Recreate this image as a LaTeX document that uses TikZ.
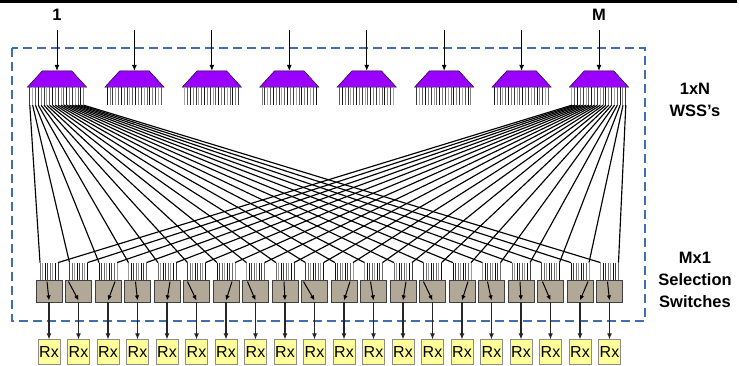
\documentclass[tikz,border=0pt]{standalone}
\usepackage{fontspec}
\setmainfont{Liberation Sans}
\usetikzlibrary{calc, arrows.meta, positioning}
\definecolor{wsspurple}{RGB}{153,0,255}
\definecolor{swgrey}{RGB}{178,168,152}
\definecolor{rxyellow}{RGB}{255,255,153}
\definecolor{boxblue}{RGB}{62,110,180}

\begin{document}
\begin{tikzpicture}[x=1pt, y=-1pt, >={Latex[length=6pt,width=5pt]},
    every node/.style={font=\fontsize{16.5}{22}\selectfont\bfseries, align=center},
    wss/.style={minimum width=59pt, minimum height=16pt, inner sep=0pt},
    swbox/.style={draw=black!75, thick, fill=swgrey,
        minimum width=26pt, minimum height=22pt, inner sep=0pt},
    rxbox/.style={draw=black!45, thick, fill=rxyellow, minimum width=22pt,
        minimum height=25pt, inner sep=0pt, font=\fontsize{16}{18}\selectfont},
    fibre/.style={line width=1.15pt},
    port/.style={line width=1pt}]

            \useasboundingbox (0,0) rectangle (739,365);

            % Rule along the top
            \draw[line width=3pt] (0,1.5) -- (737,1.5);

            % Outer dashed box
            \draw[boxblue, line width=1.4pt, dash pattern=on 9pt off 5pt] (12,48) rectangle (645,321);

            % Input labels
            \node (lbl1) at (57,15) {1};
            \node (lblM) at (599,15) {M};

            % 1xN WSS's with their input arrows and output ports
            \foreach \k in {1,...,8} {
                \node[wss] (wss\k) at ({57+77.43*(\k-1)},79) {};
                \draw[fill=wsspurple] (wss\k.south west) -- ($(wss\k.north west)+(15,0)$)
                    -- ($(wss\k.north east)+(-15,0)$) -- (wss\k.south east) -- cycle;
                \coordinate (in\k) at ({57+77.43*(\k-1)},30);
                \draw[->, thick] (in\k) -- (wss\k.north);
                \foreach \j in {1,...,20} {
                    \pgfmathtruncatemacro\tone{mod(\j*7+\k,5)*14+35}
                    \draw[port, draw=black!\tone]
                        ($(wss\k.south west)+({2.5+(\j-1)*54/19},0)$) --
                        ($(wss\k.south west)+({2.5+(\j-1)*54/19},18)$);
                }
            }

            % Mx1 selection switches and receivers
            \foreach \i/\dx in {1/-2, 2/-10, 3/7, 4/-2, 5/3, 6/-9, 7/6, 8/-8, 9/-1, 10/-11,
                                11/6, 12/-3, 13/3, 14/-9, 15/6, 16/-4, 17/-1, 18/-8, 19/8, 20/-2} {
                \node[swbox] (sw\i) at ({49+29.5*(\i-1)},291) {};
                \node[rxbox, below=37pt of sw\i] (rx\i) {Rx};
                \foreach \p in {0,...,7} {
                    \pgfmathtruncatemacro\tone{mod(\p*3+\i,4)*18+40}
                    \draw[port, draw=black!\tone]
                        ($(sw\i.north)+({-9+\p*18/7},-17)$) -- ($(sw\i.north)+({-9+\p*18/7},0)$);
                }
                \coordinate (sl\i) at ($(sw\i.north)+(-9,-17)$);
                \coordinate (sr\i) at ($(sw\i.north)+(9,-17)$);
                % switch position inside the box
                \draw[->, >={Latex[length=5pt,width=4.5pt]}, line width=1pt]
                    ($(sw\i.north)+(\dx,2)$) -- ($(sw\i.south)+(0,-2)$);
                \draw[->, line width=1.1pt, black!85] (sw\i.south) -- (rx\i.north);
            }

            % Fibres from WSS 1 and WSS M to every switch
            \foreach \i in {1,...,20} {
                \coordinate (a\i) at ($(wss1.south west)+({2.5+(\i-1)*54/19},18)$);
                \coordinate (b\i) at ($(wss8.south west)+({2.5+(\i-1)*54/19},18)$);
                \draw[fibre] (a\i) -- (sl\i);
                \draw[fibre] (b\i) -- (sr\i);
            }

            % Right-hand labels
            \node (wsslbl) at (695,100) {1xN\\WSS’s};
            \node (swlbl) at (695,280) {Mx1\\Selection\\Switches};

        \end{tikzpicture}
\end{document}
